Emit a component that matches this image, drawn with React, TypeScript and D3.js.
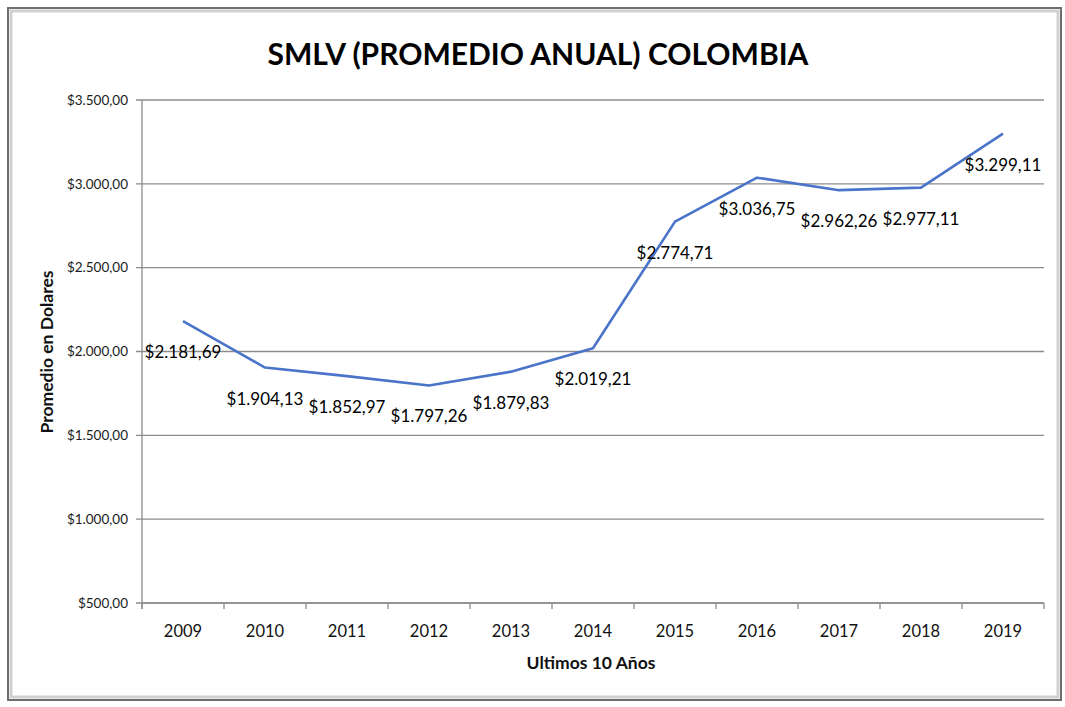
import React, { useEffect, useRef } from "react";
import * as d3 from "d3";

const years = ["2009", "2010", "2011", "2012", "2013", "2014", "2015", "2016", "2017", "2018", "2019"];
const promedio = [2181.69, 1904.13, 1852.97, 1797.26, 1879.83, 2019.21, 2774.71, 3036.75, 2962.26, 2977.11, 3299.11];
const yTicks = [500, 1000, 1500, 2000, 2500, 3000, 3500];

const W = 1065;
const H = 707;
const margin = { top: 100, right: 21, bottom: 104, left: 142 };
const FONT = "Lato, 'Open Sans', sans-serif";

const es = d3.formatLocale({
  decimal: ",",
  thousands: ".",
  grouping: [3],
  currency: ["$", ""],
});
const money = es.format("$,.2f");

function App() {
  const ref = useRef<SVGSVGElement>(null);

  useEffect(() => {
    const svg = d3.select(ref.current);
    svg.selectAll("*").remove();

    // frame
    svg.append("rect").attr("width", W).attr("height", H).attr("fill", "#fff");
    svg
      .append("rect")
      .attr("x", 8)
      .attr("y", 8)
      .attr("width", 1053)
      .attr("height", 692)
      .attr("fill", "none")
      .attr("stroke", "#6e6e6e")
      .attr("stroke-width", 2);
    svg
      .append("rect")
      .attr("x", 11)
      .attr("y", 11)
      .attr("width", 1047)
      .attr("height", 686)
      .attr("fill", "none")
      .attr("stroke", "#d0d0d0")
      .attr("stroke-width", 3);

    const x = d3
      .scaleBand()
      .domain(years)
      .range([margin.left, W - margin.right]);
    const y = d3
      .scaleLinear()
      .domain([500, 3500])
      .range([H - margin.bottom, margin.top]);

    const left = margin.left;
    const right = W - margin.right;
    const bottom = H - margin.bottom;

    // gridlines
    svg
      .append("g")
      .selectAll("line")
      .data(yTicks)
      .join("line")
      .attr("x1", left - 6)
      .attr("x2", right)
      .attr("y1", (d) => y(d))
      .attr("y2", (d) => y(d))
      .attr("stroke", "#8c8c8c")
      .attr("stroke-width", 1.3);

    svg
      .append("g")
      .selectAll("text")
      .data(yTicks)
      .join("text")
      .attr("x", left - 14)
      .attr("y", (d) => y(d))
      .attr("dy", "0.35em")
      .attr("text-anchor", "end")
      .attr("font-family", FONT)
      .attr("font-size", 13.5)
      .attr("fill", "#1a1a1a")
      .text((d) => money(d));

    // axes lines
    svg
      .append("line")
      .attr("x1", left)
      .attr("x2", left)
      .attr("y1", margin.top)
      .attr("y2", bottom + 6)
      .attr("stroke", "#8c8c8c")
      .attr("stroke-width", 1.3);
    svg
      .append("line")
      .attr("x1", left)
      .attr("x2", right)
      .attr("y1", bottom)
      .attr("y2", bottom)
      .attr("stroke", "#8c8c8c")
      .attr("stroke-width", 1.3);

    const bounds = years.map((d) => x(d)!).concat([right]);
    svg
      .append("g")
      .selectAll("line")
      .data(bounds)
      .join("line")
      .attr("x1", (d) => d)
      .attr("x2", (d) => d)
      .attr("y1", bottom)
      .attr("y2", bottom + 6)
      .attr("stroke", "#8c8c8c")
      .attr("stroke-width", 1.3);

    svg
      .append("g")
      .selectAll("text")
      .data(years)
      .join("text")
      .attr("x", (d) => x(d)! + x.bandwidth() / 2)
      .attr("y", bottom + 34)
      .attr("text-anchor", "middle")
      .attr("font-family", FONT)
      .attr("font-size", 16.5)
      .attr("fill", "#111")
      .text((d) => d);

    // line
    const line = d3
      .line<number>()
      .x((_, i) => x(years[i])! + x.bandwidth() / 2)
      .y((d) => y(d));
    svg
      .append("path")
      .datum(promedio)
      .attr("d", line)
      .attr("fill", "none")
      .attr("stroke", "#4a74c9")
      .attr("stroke-width", 2.6)
      .attr("stroke-linejoin", "round");

    // data labels
    svg
      .append("g")
      .selectAll("text")
      .data(promedio)
      .join("text")
      .attr("x", (_, i) => x(years[i])! + x.bandwidth() / 2)
      .attr("y", (d) => y(d) + 37)
      .attr("text-anchor", "middle")
      .attr("font-family", FONT)
      .attr("font-size", 17)
      .attr("fill", "#000")
      .text((d) => money(d));

    // titles
    svg
      .append("text")
      .attr("x", 538)
      .attr("y", 65)
      .attr("text-anchor", "middle")
      .attr("font-family", FONT)
      .attr("font-weight", "bold")
      .attr("font-size", 30)
      .attr("fill", "#000")
      .text("SMLV (PROMEDIO ANUAL) COLOMBIA");

    svg
      .append("text")
      .attr("x", 591)
      .attr("y", 669)
      .attr("text-anchor", "middle")
      .attr("font-family", FONT)
      .attr("font-weight", "bold")
      .attr("font-size", 17.5)
      .attr("fill", "#111")
      .text("Ultimos 10 Años");

    svg
      .append("text")
      .attr("transform", "translate(53,352) rotate(-90)")
      .attr("text-anchor", "middle")
      .attr("font-family", FONT)
      .attr("font-weight", "bold")
      .attr("font-size", 17.5)
      .attr("fill", "#111")
      .text("Promedio en Dolares");
  }, []);

  return (
    <svg
      ref={ref}
      width={W}
      height={H}
      style={{ position: "absolute", left: 0, top: 0 }}
    />
  );
}

export default App;
